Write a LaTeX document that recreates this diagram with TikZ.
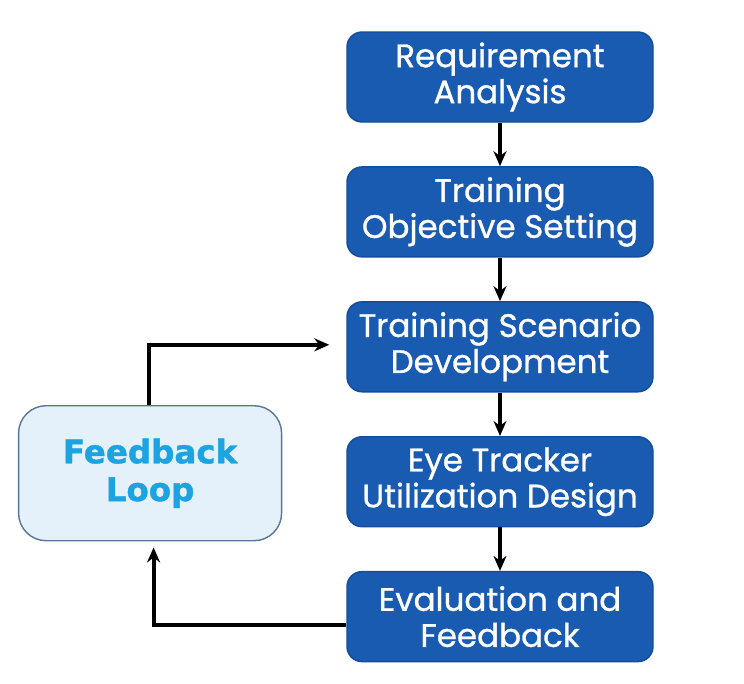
\documentclass[tikz,border=0pt]{standalone}
\usepackage{fontspec}
\usepackage{xcolor}
\usepackage{tikz}
\usetikzlibrary{positioning, arrows.meta, calc}
\newfontfamily\stepfont[FakeBold=0.9]{Poppins}
\newfontfamily\loopfont[FakeBold=1.2]{DejaVu Sans}
\definecolor{stepblue}{HTML}{1A5BB2}
\definecolor{stepedge}{HTML}{124C9A}
\definecolor{loopfill}{HTML}{E4F0FA}
\definecolor{loopedge}{HTML}{5A7596}
\definecolor{looptext}{HTML}{1CA3E2}

\begin{document}
\begin{tikzpicture}[
  stepbox/.style={draw=stepedge,thick,rounded corners=0.3cm,fill=stepblue,
              text=white,align=center,minimum height=1.8cm,minimum width=6.12cm,
              font=\stepfont\fontsize{18.5}{20.5}\selectfont},
  loopbox/.style={draw=loopedge,thick,rounded corners=0.55cm,fill=loopfill,
              text=looptext,align=center,minimum height=2.7cm,minimum width=5.26cm,
              font=\loopfont\bfseries\fontsize{18.5}{21.5}\selectfont},
  flow/.style={-{Stealth[length=0.3cm,width=0.26cm]},line width=2.2pt},
  node distance=0.87cm]
  \useasboundingbox (0,0) rectangle (14.88,-13.68);
  \node[stepbox] (R) at (10,-1.54) {Requirement\\Analysis};
  \node[stepbox, below=of R] (O) {Training\\Objective Setting};
  \node[stepbox, below=of O] (S) {Training Scenario\\Development};
  \node[stepbox, below=of S] (E) {Eye Tracker\\Utilization Design};
  \node[stepbox, below=of E] (V) {Evaluation and\\Feedback};
  \node[loopbox, left=1.28cm of E, yshift=0.17cm] (F) {Feedback\\Loop};
  \draw[flow] (R) -- (O);
  \draw[flow] (O) -- (S);
  \draw[flow] (S) -- (E);
  \draw[flow] (E) -- (V);
  \draw[flow, shorten >=0.12cm] ([yshift=-0.16cm]V.west) -| ([xshift=0.07cm]F.south);
  \draw[flow, shorten >=0.34cm] ([xshift=-0.03cm]F.north) |- ([yshift=0.04cm]S.west);
\end{tikzpicture}
\end{document}
